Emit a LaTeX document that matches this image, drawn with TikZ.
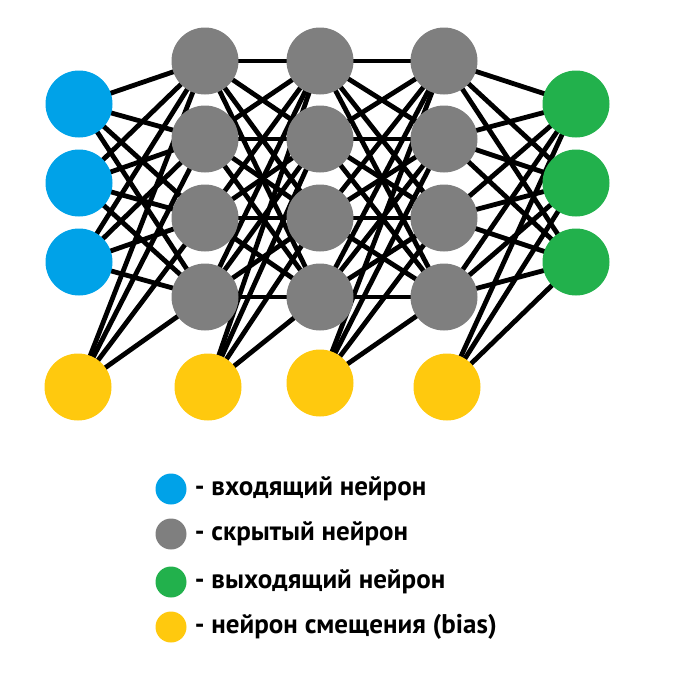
\documentclass[tikz,border=0pt]{standalone}
\usepackage{fontspec}
\setmainfont{PT Sans}
\usetikzlibrary{positioning,backgrounds}
\definecolor{inputblue}{HTML}{00A2E8}
\definecolor{hiddengray}{HTML}{7F7F7F}
\definecolor{outputgreen}{HTML}{22B14C}
\definecolor{biasyellow}{HTML}{FFC90E}

\begin{document}
\begin{tikzpicture}[x=1pt,y=-1pt,line cap=round,
 neuron/.style={circle,inner sep=0pt,minimum size=67pt},
 link/.style={line width=4.8pt},
 legenddot/.style={circle,inner sep=0pt,minimum size=31pt},
 legendtext/.style={right=8pt,inner sep=0pt,font=\fontsize{27}{29}\selectfont\bfseries}]
 \useasboundingbox (0,0) rectangle (688,675);
 % Входной и выходной слои.
 \foreach \i/\y in {1/104,2/183,3/262} {
  \node[neuron,fill=inputblue] (in\i) at (79,\y) {};
  \node[neuron,fill=outputgreen] (out\i) at (576,\y) {};
 }
 % Три скрытых слоя по четыре нейрона.
 \foreach \l/\x in {1/205,2/320,3/444}
  \foreach \j/\y in {1/61,2/139,3/218,4/297}
   \node[neuron,fill=hiddengray] (h\l\j) at (\x,\y) {};
 % Нейроны смещения.
 \foreach \b/\x/\y in {1/78/387,2/208/387,3/320/383,4/447/387}
  \node[neuron,fill=biasyellow] (b\b) at (\x,\y) {};
 % Связи под кругами.
 \begin{scope}[on background layer]
  \foreach \i in {1,2,3}
   \foreach \j in {1,...,4} {
    \draw[link] (in\i.center) -- (h1\j.center);
    \draw[link] (h3\j.center) -- (out\i.center);
   }
  \foreach \j in {1,...,4}
   \foreach \k in {1,...,4} {
    \draw[link] (h1\j.center) -- (h2\k.center);
    \draw[link] (h2\j.center) -- (h3\k.center);
   }
  \foreach \j in {1,...,4} {
   \draw[link] (b1.center) -- (h1\j.center);
   \draw[link] (b2.center) -- (h2\j.center);
   \draw[link] (b3.center) -- (h3\j.center);
  }
  \foreach \i in {1,2,3}
   \draw[link] (b4.center) -- (out\i.center);
 \end{scope}
 % Легенда.
 \node[legenddot,fill=inputblue] (key1) at (171,489) {};
 \node[legenddot,fill=hiddengray] (key2) at (171,534) {};
 \node[legenddot,fill=outputgreen] (key3) at (171,582) {};
 \node[legenddot,fill=biasyellow] (key4) at (171,627) {};
 \node[legendtext] at (key1.east) {- входящий нейрон};
 \node[legendtext] at (key2.east) {- скрытый нейрон};
 \node[legendtext] at (key3.east) {- выходящий нейрон};
 \node[legendtext] at (key4.east) {- нейрон смещения (bias)};
\end{tikzpicture}
\end{document}
